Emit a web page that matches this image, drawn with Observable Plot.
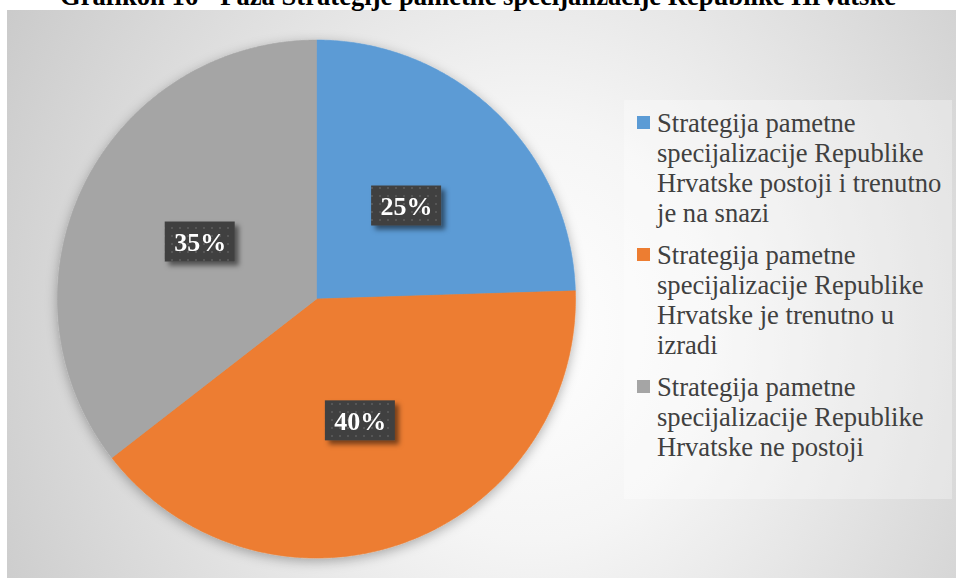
<!DOCTYPE html>
<html><head><meta charset="utf-8">
<script src="https://cdn.jsdelivr.net/npm/d3@7"></script>
<script src="https://cdn.jsdelivr.net/npm/@observablehq/plot@0.6"></script>
<style>
html,body{margin:0;padding:0;background:#fff;}
#wrap{position:relative;width:956px;height:578px;overflow:hidden;font-family:"Liberation Serif","Times New Roman",serif;}
#bg{position:absolute;left:7px;top:10px;width:949px;height:568px;
  background:radial-gradient(ellipse 620px 700px at 523px 320px,#ffffff 0%,#f5f5f5 30%,#dedede 65%,#c8c8c8 100%);}
#title{position:absolute;left:0;top:-19px;width:956px;text-align:center;font-weight:bold;font-size:26.6px;line-height:30px;color:#000;white-space:nowrap;}
#chart{position:absolute;left:0;top:0;}
#legend{position:absolute;left:624px;top:100px;width:328px;height:399px;background:rgba(255,255,255,0.3);box-sizing:border-box;padding-top:8px;}
.item{position:relative;padding-left:33px;width:292px;font-size:26.6px;line-height:30px;color:#404040;margin-bottom:12px;}
.sw{position:absolute;left:13px;top:8px;width:13px;height:13px;}
</style>
</head><body>
<div id="wrap">
  <div id="bg"></div>
  <div id="chart"></div>
  <div id="legend"></div>
  <div id="title"></div>
</div>
<script>
const titleText = "Grafikon 16 - Faza Strategije pametne specijalizacije Republike Hrvatske";
const categories = [
  "Strategija pametne specijalizacije Republike Hrvatske postoji i trenutno je na snazi",
  "Strategija pametne specijalizacije Republike Hrvatske je trenutno u izradi",
  "Strategija pametne specijalizacije Republike Hrvatske ne postoji"
];
const values = [24.5, 40.0, 35.5];
const labels = ["25%", "40%", "35%"];
const colors = ["#5B9BD5", "#ED7D31", "#A5A5A5"];

document.getElementById("title").textContent = titleText;

const rows = categories.map((c, i) => ({cat: c, value: values[i], label: labels[i], color: colors[i]}));
const arcs = d3.pie().sort(null).value(d => d.value)(rows);

// slice outlines (angle measured clockwise from 12 o'clock)
const slices = arcs.map((a, i) => {
  const pts = [{x: 0, y: 0}];
  const n = Math.max(2, Math.ceil((a.endAngle - a.startAngle) / (Math.PI / 360)));
  for (let j = 0; j <= n; j++) {
    const t = a.startAngle + (a.endAngle - a.startAngle) * j / n;
    pts.push({x: Math.sin(t), y: Math.cos(t)});
  }
  pts.push({x: 0, y: 0});
  return pts;
});
const labelPos = arcs.map(a => {
  const m = (a.startAngle + a.endAngle) / 2;
  return {x: 0.5 * Math.sin(m), y: 0.5 * Math.cos(m), label: a.data.label};
});

const R = 259;               // pixel radius
const bw = 35 / R, bh = 20 / R;  // label box half-size in scale units

const svg = Plot.plot({
  width: 956, height: 578,
  marginLeft: 57, marginRight: 381, marginTop: 39.5, marginBottom: 20.5,
  x: {domain: [-1, 1], axis: null},
  y: {domain: [-1, 1], axis: null},
  style: {background: "none", overflow: "visible"},
  marks: [
    ...slices.map((pts, i) => Plot.line(pts, {x: "x", y: "y", fill: colors[i], stroke: colors[i], strokeWidth: 0.6})),
    Plot.rect(labelPos, {x1: d => d.x - bw, x2: d => d.x + bw, y1: d => d.y - bh, y2: d => d.y + bh, fill: "url(#dots)"}),
    Plot.text(labelPos, {x: "x", y: "y", text: "label", fill: "white", fontSize: 26, fontWeight: "bold",
      fontFamily: "Liberation Serif", textAnchor: "middle", lineAnchor: "middle", dy: 1})
  ]
});

const ns = "http://www.w3.org/2000/svg";
const defs = d3.select(svg).insert("defs", ":first-child");
const pat = defs.append("pattern").attr("id", "dots").attr("patternUnits", "userSpaceOnUse")
  .attr("width", 8).attr("height", 8);
pat.append("rect").attr("width", 8).attr("height", 8).attr("fill", "#404040");
pat.append("rect").attr("x", 3).attr("y", 3).attr("width", 2).attr("height", 2).attr("fill", "#565656");
const f1 = defs.append("filter").attr("id", "pieShadow").attr("x", "-20%").attr("y", "-20%").attr("width", "140%").attr("height", "140%");
f1.append("feDropShadow").attr("dx", 0).attr("dy", 3).attr("stdDeviation", 6).attr("flood-color", "#000").attr("flood-opacity", 0.3);
const f2 = defs.append("filter").attr("id", "boxShadow").attr("x", "-30%").attr("y", "-30%").attr("width", "170%").attr("height", "170%");
f2.append("feDropShadow").attr("dx", 4).attr("dy", 4).attr("stdDeviation", 2.5).attr("flood-color", "#000").attr("flood-opacity", 0.5);

const lineGroups = svg.querySelectorAll('g[aria-label="line"]');
if (lineGroups.length) {
  const wrapper = document.createElementNS(ns, "g");
  wrapper.setAttribute("filter", "url(#pieShadow)");
  lineGroups[0].parentNode.insertBefore(wrapper, lineGroups[0]);
  lineGroups.forEach(g => wrapper.appendChild(g));
}
svg.querySelectorAll('g[aria-label="rect"]').forEach(g => g.setAttribute("filter", "url(#boxShadow)"));

document.getElementById("chart").appendChild(svg);

const legend = d3.select("#legend");
rows.forEach(r => {
  const it = legend.append("div").attr("class", "item");
  it.append("div").attr("class", "sw").style("background", r.color);
  it.append("span").text(r.cat);
});
</script>
</body></html>
